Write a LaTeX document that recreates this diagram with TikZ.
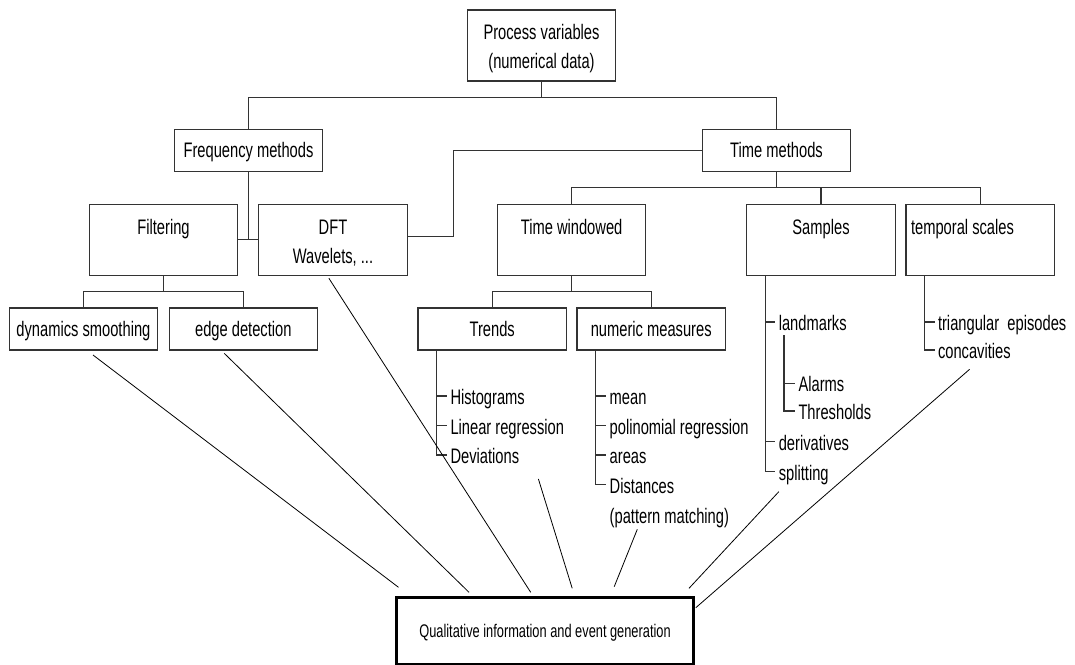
\documentclass[tikz,border=0pt]{standalone}
\usepackage{fontspec}
\setmainfont{Liberation Sans}[FakeStretch=0.70]
\begin{document}
\begin{tikzpicture}[x=1pt,y=-1pt,
  every node/.style={inner sep=0pt, outer sep=0pt},
  boxline/.style={draw=black!80, line width=1.1pt},
  bigfont/.style={font=\fontsize{21}{25}\selectfont},
  smallbox/.style={boxline, bigfont, minimum width=148.4pt, minimum height=42pt,
                   text height=14pt, text depth=0pt},
  tallbox/.style={boxline, minimum width=148.4pt, minimum height=71pt},
  lbl/.style={bigfont, anchor=base},
  item/.style={bigfont, anchor=west, text height=17pt, text depth=0pt},
  tree/.style={draw=black!80, line width=1.1pt},
  tick/.style={tree, shorten >=3.5pt},
  feed/.style={draw=black, line width=0.8pt},
]
\useasboundingbox (0,0) rectangle (1075,664);

% ---- boxes ----
\node[tallbox] (proc) at (541.5,45.5) {};
\node[lbl] (procA) at (541.5,39.5) {Process variables};
\node[lbl] (procB) at (541.5,68.5) {(numerical data)};

\node[smallbox] (freq) at (248.5,150.3) {Frequency methods};
\node[smallbox] (time) at (776.5,150.3) {Time methods};

\node[tallbox] (filt) at (163.5,239.8) {};
\node[lbl] (filtA) at (163.5,234.3) {Filtering};
\node[tallbox] (dft) at (333,239.8) {};
\node[lbl] (dftA) at (333,234.3) {DFT};
\node[lbl] (dftB) at (333,263.3) {Wavelets, ...};
\node[tallbox] (twin) at (571.6,239.8) {};
\node[lbl] (twinA) at (571.6,234.3) {Time windowed};
\node[tallbox] (samp) at (821,239.8) {};
\node[lbl] (sampA) at (821,234.3) {Samples};
\node[tallbox] (temp) at (980.2,239.8) {};
\node[lbl, anchor=base west] (tempA) at (911,234.3) {temporal scales};

\node[smallbox] (dyn) at (83.4,329) {dynamics smoothing};
\node[smallbox] (edge) at (243.3,329) {edge detection};
\node[smallbox] (trend) at (492.2,329) {Trends};
\node[smallbox] (num) at (651.2,329) {numeric measures};

\node[draw=black, line width=3pt, minimum width=296.6pt, minimum height=67.2pt,
      text height=13.4pt, text depth=0pt, font=\fontsize{18.3}{22}\selectfont]
  (qual) at (545,630.9) {Qualitative information and event generation};

% ---- list entries ----
\node[item] (hist) at (450.5,396) {Histograms};
\node[item] (linr) at (450.5,425.5) {Linear regression};
\node[item] (devi) at (450.5,455) {Deviations};

\node[item] (mean) at (609.7,396) {mean};
\node[item] (poly) at (609.7,425.5) {polinomial regression};
\node[item] (area) at (609.7,455) {areas};
\node[item] (dist) at (609.7,484.5) {Distances};
\node[item] (patt) at (609.7,514.5) {(pattern matching)};

\node[item] (land) at (778.8,322) {landmarks};
\node[item] (alarm) at (798.5,383.3) {Alarms};
\node[item] (thr) at (798.5,411) {Thresholds};
\node[item] (deriv) at (778.8,441.7) {derivatives};
\node[item] (split) at (778.8,471.7) {splitting};

\node[item] (tri) at (938,322) {triangular~~episodes};
\node[item] (conc) at (938,350) {concavities};

% ---- tree connectors ----
\draw[tree] (proc.south) -- ++(0,16.3) coordinate (j0);
\draw[tree] (freq.north) |- (j0) -| (time.north);
\draw[tree] (freq.south) -- (freq.south |- filt.east);
\draw[tree] (filt.east) -- (dft.west);
\draw[tree] (time.west) -- ++(-249.2,0) |- ([yshift=3pt]dft.east);
\draw[tree] (time.south) -- ++(0,16.4) coordinate (j1);
\draw[tree] (twin.north) |- (j1) -| (temp.north);
\draw[tree] (samp.north) -- (samp.north |- j1);
\draw[tree] (filt.south) -- ++(0,16.4) coordinate (j2);
\draw[tree] (dyn.north) |- (j2) -| (edge.north);
\draw[tree] (twin.south) -- ++(0,16.4) coordinate (j3);
\draw[tree] (trend.north) |- (j3) -| (num.north);

% ---- list bars ----
\coordinate (trbar) at ([xshift=18.3pt]trend.south west);
\draw[tick] (trbar) |- (devi.west);
\draw[tick] (hist.west -| trbar) -- (hist.west);
\draw[tick] (linr.west -| trbar) -- (linr.west);

\coordinate (nmbar) at ([xshift=18.3pt]num.south west);
\draw[tick] (nmbar) |- (dist.west);
\draw[tick] (mean.west -| nmbar) -- (mean.west);
\draw[tick] (poly.west -| nmbar) -- (poly.west);
\draw[tick] (area.west -| nmbar) -- (area.west);

\coordinate (spbar) at ([xshift=18.3pt]samp.south west);
\draw[tick] (spbar) |- (split.west);
\draw[tick] (land.west -| spbar) -- (land.west);
\draw[tick] (deriv.west -| spbar) -- (deriv.west);
\coordinate (lmbar) at ([xshift=5.2pt,yshift=-4.5pt]land.south west);
\draw[tick] (lmbar) |- (thr.west);
\draw[tick] (alarm.west -| lmbar) -- (alarm.west);

\coordinate (tsbar) at ([xshift=18.3pt]temp.south west);
\draw[tick] (tsbar) |- (conc.west);
\draw[tick] (tri.west -| tsbar) -- (tri.west);

% ---- feeds into the event generation box ----
\coordinate (f1a) at (93,355);     \coordinate (f1b) at (398.5,587.3);
\coordinate (f2a) at (224.2,353.3); \coordinate (f2b) at (469,592.3);
\coordinate (f3a) at (328.9,278.3); \coordinate (f3b) at (530.7,592.3);
\coordinate (f4a) at (538.4,479);   \coordinate (f4b) at (572.2,588.3);
\coordinate (f5a) at (637.3,529.3); \coordinate (f5b) at (614.2,586.7);
\coordinate (f6a) at (778.8,491.7); \coordinate (f6b) at (689,588.3);
\coordinate (f7a) at (969.6,369.3); \coordinate (f7b) at (695.8,607.7);
\foreach \k in {1,...,7} \draw[feed] (f\k a) -- (f\k b);
\end{tikzpicture}
\end{document}
